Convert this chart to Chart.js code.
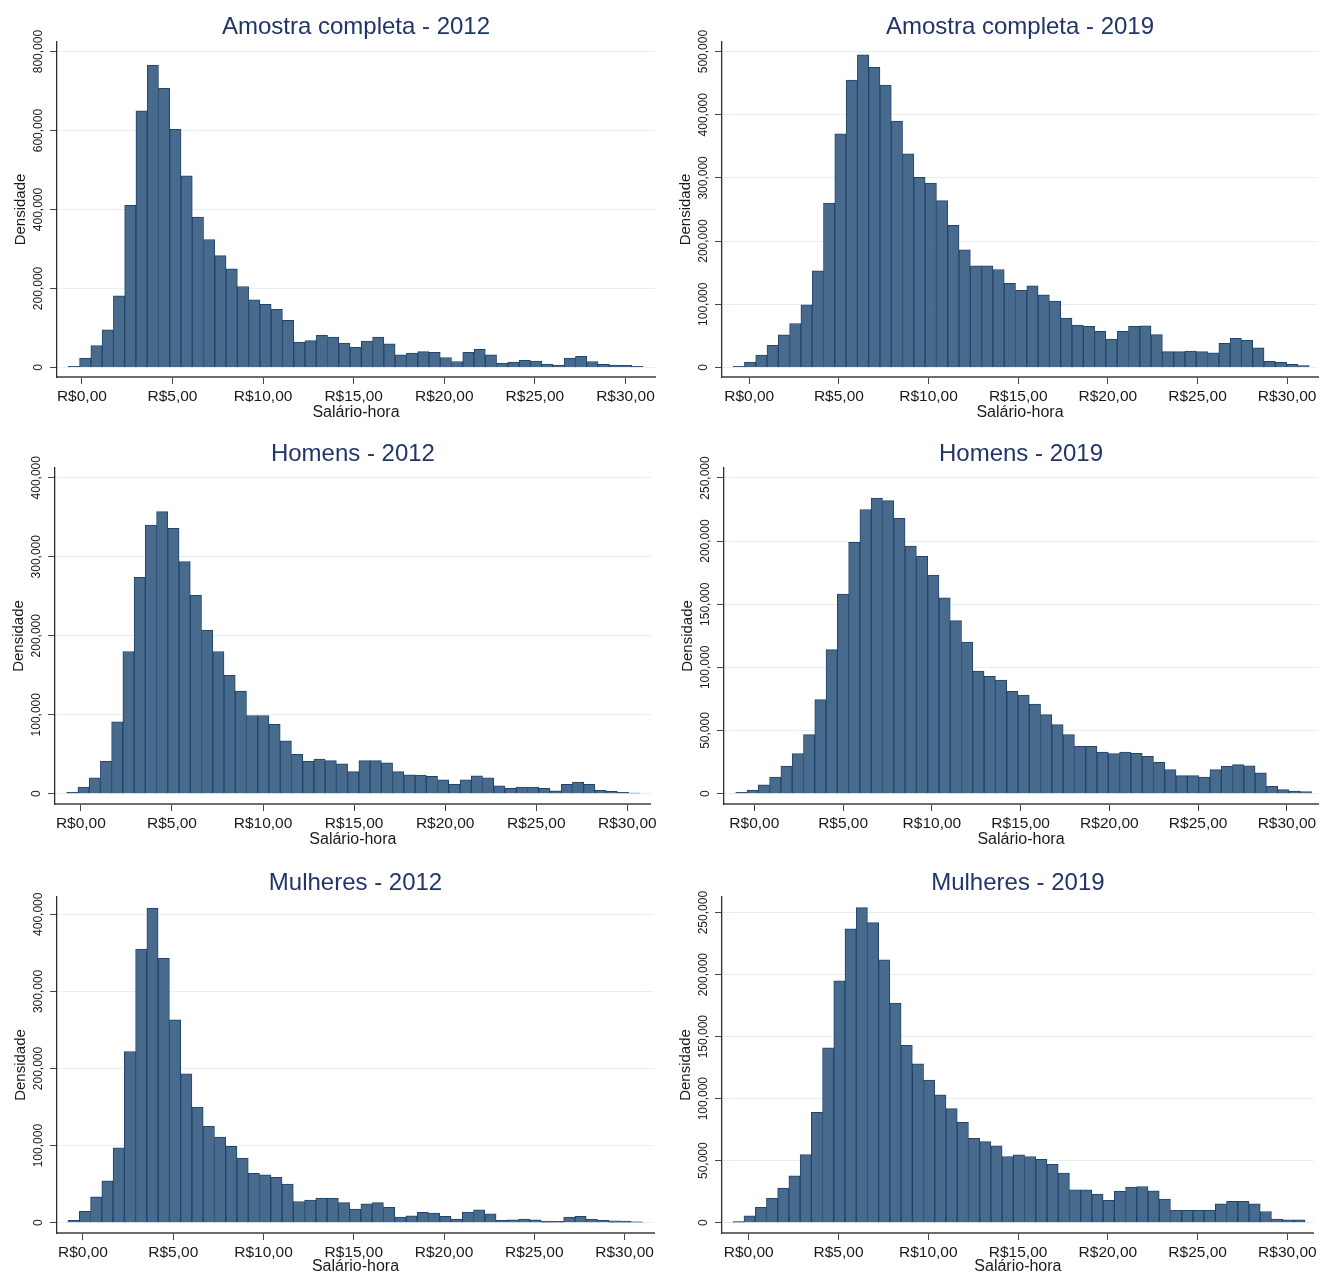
<!DOCTYPE html>
<html>
<head>
<meta charset="utf-8">
<script src="https://cdn.jsdelivr.net/npm/chart.js@4.4.0/dist/chart.umd.min.js"></script>
<style>
  body { margin: 0; background: #fff; }
  #wrap { position: relative; width: 1320px; height: 1275px; overflow: hidden; }
  #wrap canvas { position: absolute; }
</style>
</head>
<body>
<div id="wrap"></div>
<script>
// histogram values (Densidade per bin, 51 bins each)
const amostra2012 = [3000, 23600, 55600, 95300, 181000, 410500, 650000, 766000, 707000, 603000,
  485000, 381000, 324000, 283000, 250000, 205000, 171000, 160000, 147000, 119000,
  64000, 68000, 82000, 77000, 61500, 51000, 67000, 77000, 60000, 32000,
  36000, 40000, 38000, 25000, 15000, 38000, 46000, 32000, 11000, 13500,
  18000, 16000, 8400, 5000, 23600, 28000, 15000, 7600, 6000, 5000, 2500];
const amostra2019 = [1600, 8400, 19500, 34800, 51600, 69500, 99000, 153000, 260000, 370000,
  455000, 495000, 475000, 447000, 390000, 338000, 301000, 292000, 264000, 225000,
  186000, 161000, 161000, 155000, 133000, 122000, 129000, 115000, 105000, 78000,
  67000, 65000, 57000, 45000, 57000, 65000, 66000, 52000, 25000, 25000,
  26000, 25000, 23000, 38000, 46000, 43000, 31000, 9500, 8000, 5000, 3000];
const homens2012 = [1700, 8400, 20000, 41000, 91000, 180000, 274000, 340000, 357000, 336000,
  294000, 251000, 207000, 180000, 150000, 130000, 99000, 99000, 88000, 67000,
  50000, 41000, 44000, 42000, 38000, 28000, 42000, 42000, 39000, 28000,
  24000, 23600, 22000, 17700, 12000, 17700, 22800, 20000, 10000, 6800,
  8400, 8400, 6800, 3800, 11800, 14800, 12000, 4200, 3000, 1700, 800];
const homens2019 = [1000, 2900, 6900, 13200, 21900, 31700, 46700, 74400, 114000, 158000,
  199000, 225000, 234000, 232000, 218000, 196000, 188000, 173000, 155000, 137000,
  120000, 97000, 93000, 90000, 81000, 78000, 71000, 62600, 54600, 46700,
  37500, 37500, 33000, 31700, 33000, 32000, 29600, 24800, 19000, 14300,
  14300, 13200, 19000, 21600, 23000, 22000, 16400, 5800, 3200, 2100, 1600];
const mulheres2012 = [3000, 14700, 33700, 54400, 97000, 222000, 355000, 408000, 343000, 263000,
  193000, 150000, 125000, 111000, 99000, 84000, 64000, 62000, 59000, 50000,
  27600, 29300, 32000, 32000, 26000, 17700, 24600, 26000, 20000, 7300,
  9000, 13400, 12500, 8200, 4700, 13800, 16800, 11600, 3000, 3900,
  4700, 3900, 2200, 1700, 7300, 8200, 4700, 3000, 2600, 2200, 1300];
const mulheres2019 = [1000, 5600, 12300, 19800, 27900, 37800, 55000, 89000, 141000, 195000,
  237000, 254000, 242000, 212000, 177000, 143000, 128000, 115000, 103000, 92000,
  81000, 68000, 65400, 62000, 53400, 54700, 53400, 51000, 47000, 40000,
  26500, 26500, 23000, 18000, 25200, 28700, 29200, 25700, 19000, 10000,
  10000, 10000, 10000, 15300, 17200, 17200, 15300, 9000, 3000, 2400, 2400];

const titles = ['Amostra completa - 2012', 'Amostra completa - 2019', 'Homens - 2012',
  'Homens - 2019', 'Mulheres - 2012', 'Mulheres - 2019'];
const series = [amostra2012, amostra2019, homens2012, homens2019, mulheres2012, mulheres2019];
// left edge of first bin and bin width (R$)
const binStart = [-0.75, -0.90, -0.78, -1.05, -0.83, -0.89];
const binWidth = [0.622, 0.630, 0.617, 0.636, 0.624, 0.625];
// tick labels
const xTicks = [0, 5, 10, 15, 20, 25, 30];
const yTicks = [
  [0, 200000, 400000, 600000, 800000],
  [0, 100000, 200000, 300000, 400000, 500000],
  [0, 100000, 200000, 300000, 400000],
  [0, 50000, 100000, 150000, 200000, 250000],
  [0, 100000, 200000, 300000, 400000],
  [0, 50000, 100000, 150000, 200000, 250000]
];

// layout: canvas box, plot box (page px) and axis extents
const layout = [
  { cx: 0, cy: 0, w: 660, h: 425, l: 57, t: 42, r: 655, b: 377, titleY: 26, xr: [-1.374, 31.63], yr: [-24300, 824300] },
  { cx: 664, cy: 0, w: 656, h: 425, l: 722, t: 42, r: 1318, b: 377, titleY: 26, xr: [-1.52, 31.72], yr: [-15200, 515200] },
  { cx: 0, cy: 427, w: 660, h: 425, l: 55, t: 468, r: 653, b: 804, titleY: 453, xr: [-1.42, 31.29], yr: [-13000, 412300] },
  { cx: 664, cy: 427, w: 656, h: 425, l: 724, t: 468, r: 1318, b: 804, titleY: 453, xr: [-1.71, 31.75], yr: [-8200, 257900] },
  { cx: 0, cy: 855, w: 660, h: 420, l: 57, t: 897, r: 654, b: 1233, titleY: 882, xr: [-1.44, 31.63], yr: [-13300, 422400] },
  { cx: 664, cy: 855, w: 656, h: 420, l: 722, t: 897, r: 1318, b: 1233, titleY: 882, xr: [-1.49, 31.47], yr: [-8300, 262600] }
];

const fontFam = "Arial, 'Liberation Sans', sans-serif";
const barFill = '#476a8d';
const barEdge = '#21446b';
const titleColor = '#22356a';
const textColor = '#1a1a1a';
const titleSize = 24;

const fmtMoney = v => 'R$' + v.toFixed(2).replace('.', ',');
const fmtDens = v => v.toLocaleString('en-US');

// y tick labels drawn vertical, like the Stata output
const rotatedYLabels = {
  id: 'rotatedYLabels',
  afterDraw(chart) {
    const { ctx, scales: { y } } = chart;
    ctx.save();
    ctx.font = '12px ' + fontFam;
    ctx.fillStyle = textColor;
    ctx.textAlign = 'center';
    ctx.textBaseline = 'middle';
    y.ticks.forEach(t => {
      ctx.save();
      ctx.translate(y.right - 18, y.getPixelForValue(t.value));
      ctx.rotate(-Math.PI / 2);
      ctx.fillText(fmtDens(t.value), 0, 0);
      ctx.restore();
    });
    ctx.restore();
  }
};

const wrap = document.getElementById('wrap');

series.forEach((vals, i) => {
  const L = layout[i];
  const canvas = document.createElement('canvas');
  canvas.width = L.w;
  canvas.height = L.h;
  canvas.style.left = L.cx + 'px';
  canvas.style.top = L.cy + 'px';
  wrap.appendChild(canvas);

  const lineH = titleSize * 1.2;
  const titleT = L.titleY - L.cy - lineH / 2 + 1;
  const titleB = (L.t - L.cy) - titleT - lineH;
  const yW = L.l - L.cx;
  const xH = L.cy + L.h - L.b;
  const xTitlePad = Math.max(0, L.h - 8 - 413);

  const points = vals.map((v, k) => ({ x: binStart[i] + (k + 0.5) * binWidth[i], y: v }));

  new Chart(canvas, {
    type: 'bar',
    data: {
      datasets: [{
        data: points,
        backgroundColor: barFill,
        borderColor: barEdge,
        borderWidth: 1,
        barPercentage: 1,
        categoryPercentage: 1
      }]
    },
    options: {
      responsive: false,
      animation: false,
      layout: { padding: { left: 0, top: 0, bottom: 0, right: L.cx + L.w - L.r } },
      plugins: {
        legend: { display: false },
        tooltip: { enabled: false },
        title: {
          display: true,
          text: titles[i],
          fullSize: false,
          color: titleColor,
          font: { family: fontFam, size: titleSize, weight: 'normal', lineHeight: 1.2 },
          padding: { top: titleT, bottom: titleB }
        }
      },
      scales: {
        x: {
          type: 'linear',
          min: L.xr[0],
          max: L.xr[1],
          offset: false,
          afterBuildTicks: ax => { ax.ticks = xTicks.map(v => ({ value: v })); },
          afterFit: ax => { ax.height = xH; },
          grid: { drawOnChartArea: false, drawTicks: true, tickLength: 7, tickColor: '#444', offset: false },
          border: { display: true, color: '#6e6e6e', width: 2 },
          ticks: {
            padding: 3, color: textColor, maxRotation: 0, autoSkip: false,
            font: { family: fontFam, size: 15.5 },
            callback: v => fmtMoney(v)
          },
          title: {
            display: true, text: 'Salário-hora', color: textColor,
            font: { family: fontFam, size: 16, lineHeight: 1 },
            padding: { top: 0, bottom: xTitlePad }
          }
        },
        y: {
          min: L.yr[0],
          max: L.yr[1],
          afterBuildTicks: ax => { ax.ticks = yTicks[i].map(v => ({ value: v })); },
          afterFit: ax => { ax.width = yW; },
          grid: { color: '#e6eef0', tickColor: '#444', tickLength: 7, drawTicks: true },
          border: { display: true, color: '#2e2e2e', width: 1.3 },
          ticks: { display: false },
          title: {
            display: true, text: 'Densidade', color: textColor,
            font: { family: fontFam, size: 15, lineHeight: 1.2 },
            padding: { top: yW - 45, bottom: 0 }
          }
        }
      }
    },
    plugins: [rotatedYLabels]
  });
});
</script>
</body>
</html>
